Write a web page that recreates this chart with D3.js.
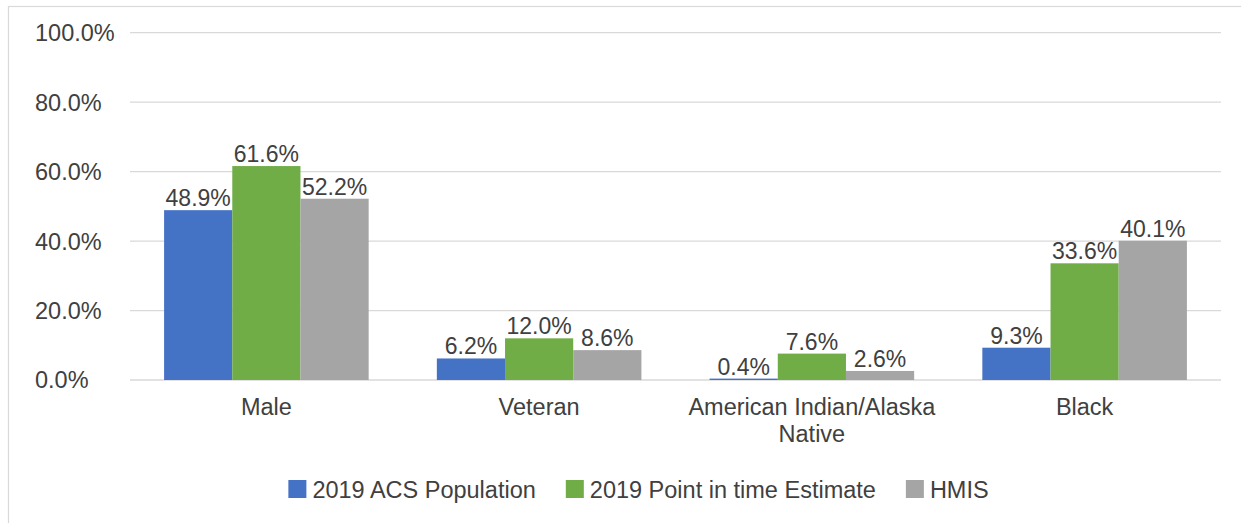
<!DOCTYPE html>
<html>
<head>
<meta charset="utf-8">
<script src="https://cdn.jsdelivr.net/npm/d3@7"></script>
<style>
  html, body { margin: 0; padding: 0; background: #fff; }
  svg text { font-family: "Liberation Sans", Arial, sans-serif; fill: #404040; }
</style>
</head>
<body>
<div id="chart"></div>
<script>
// data
const categories = ['Male', 'Veteran', 'American Indian/Alaska Native', 'Black'];
const seriesNames = ['2019 ACS Population', '2019 Point in time Estimate', 'HMIS'];
const acsPopulation = [48.9, 6.2, 0.4, 9.3];
const pitEstimate = [61.6, 12.0, 7.6, 33.6];
const hmis = [52.2, 8.6, 2.6, 40.1];
const yTicks = [0, 20, 40, 60, 80, 100];
const colors = ['#4472C4', '#70AD47', '#A5A5A5'];

const W = 1241, H = 523;
const margin = { left: 130, right: 20, top: 33, bottom: 143 };

const svg = d3.select('#chart').append('svg')
  .attr('width', W)
  .attr('height', H);

// outer chart border (cut off on the right and bottom in the reference)
svg.append('rect')
  .attr('x', 8.5).attr('y', 6.5)
  .attr('width', W + 10).attr('height', H + 10)
  .attr('fill', 'none')
  .attr('stroke', '#d9d9d9')
  .attr('stroke-width', 1.2);

const x0 = d3.scaleBand()
  .domain(categories)
  .range([margin.left, W - margin.right])
  .paddingInner(0.25)
  .paddingOuter(0.125);

const x1 = d3.scaleBand()
  .domain(seriesNames)
  .range([0, x0.bandwidth()]);

const y = d3.scaleLinear()
  .domain([0, 100])
  .range([380, 32.7]);

// gridlines
svg.append('g')
  .selectAll('line')
  .data(yTicks)
  .join('line')
  .attr('x1', margin.left)
  .attr('x2', W - margin.right)
  .attr('y1', d => y(d))
  .attr('y2', d => y(d))
  .attr('stroke', '#d9d9d9')
  .attr('stroke-width', 1.3);

// y tick labels (left aligned as in the picture)
svg.append('g')
  .selectAll('text')
  .data(yTicks)
  .join('text')
  .attr('x', 35)
  .attr('y', d => y(d))
  .attr('dy', '0.36em')
  .style('font-size', '23.5px')
  .text(d => d.toFixed(1) + '%');

const rows = categories.map((c, i) => ({
  category: c,
  values: [acsPopulation[i], pitEstimate[i], hmis[i]]
}));

const groups = svg.append('g')
  .selectAll('g')
  .data(rows)
  .join('g')
  .attr('transform', d => 'translate(' + x0(d.category) + ',0)');

groups.selectAll('rect')
  .data(d => d.values.map((v, k) => ({ key: seriesNames[k], value: v, k: k })))
  .join('rect')
  .attr('x', d => x1(d.key))
  .attr('y', d => y(d.value))
  .attr('width', x1.bandwidth())
  .attr('height', d => y(0) - y(d.value))
  .attr('fill', d => colors[d.k]);

groups.selectAll('text.val')
  .data(d => d.values.map((v, k) => ({ key: seriesNames[k], value: v })))
  .join('text')
  .attr('class', 'val')
  .attr('x', d => x1(d.key) + x1.bandwidth() / 2)
  .attr('y', d => y(d.value) - 4)
  .attr('text-anchor', 'middle')
  .style('font-size', '23px')
  .text(d => d.value.toFixed(1) + '%');

// category labels, wrapped like the reference
const catLines = {
  'American Indian/Alaska Native': ['American Indian/Alaska', 'Native']
};
svg.append('g')
  .selectAll('text')
  .data(categories)
  .join('text')
  .attr('x', d => x0(d) + x0.bandwidth() / 2)
  .attr('y', 415)
  .attr('text-anchor', 'middle')
  .style('font-size', '23.5px')
  .each(function(d) {
    const lines = catLines[d] || [d];
    d3.select(this).selectAll('tspan')
      .data(lines)
      .join('tspan')
      .attr('x', x0(d) + x0.bandwidth() / 2)
      .attr('dy', (l, i) => i === 0 ? 0 : 27)
      .text(l => l);
  });

// legend
const legend = svg.append('g');
let lx = 0;
seriesNames.forEach((name, k) => {
  const item = legend.append('g').attr('transform', 'translate(' + lx + ',0)');
  item.append('rect')
    .attr('x', 0).attr('y', 480)
    .attr('width', 18).attr('height', 18)
    .attr('fill', colors[k]);
  const t = item.append('text')
    .attr('x', 24).attr('y', 498)
    .style('font-size', '23.5px')
    .text(name);
  lx += 24 + t.node().getComputedTextLength() + 30;
});
const legendWidth = lx - 30;
legend.attr('transform', 'translate(' + (638.5 - legendWidth / 2) + ',0)');
</script>
</body>
</html>
